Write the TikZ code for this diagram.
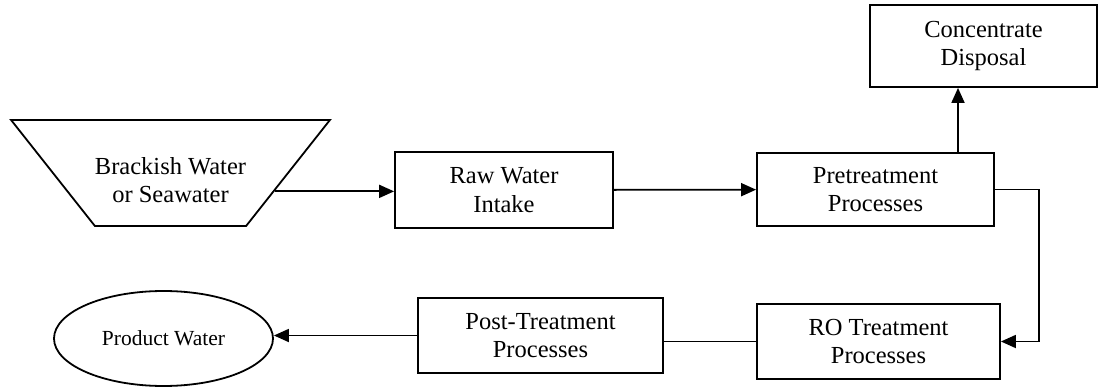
\documentclass[tikz,border=0pt]{standalone}
\usepackage{fontspec}
\setmainfont{Liberation Serif}
\usetikzlibrary{arrows.meta, shapes.geometric, positioning}

\tikzset{
  procbox/.style={draw, line width=1.8pt, rectangle, align=center, inner sep=0pt,
    font=\fontsize{24.5}{28.5}\selectfont},
  flow/.style={-{Triangle[length=15pt,width=13pt]}, line width=1.8pt},
  link/.style={line width=1.8pt},
}

\begin{document}
\begin{tikzpicture}[x=1pt, y=-1pt]
    \useasboundingbox (0,0) rectangle (1099,387);

    % source basin
    \node[trapezium, shape border rotate=180, trapezium angle=61, trapezium stretches=true,
      minimum width=319pt, minimum height=106pt, draw, line width=1.8pt] (source) at (170.5,173) {};
    \node[align=center, font=\fontsize{24.5}{28.5}\selectfont] (srclabel) at (170.5,180) {Brackish Water\\or Seawater};

    % treatment train
    \node[procbox, minimum width=218pt, minimum height=76pt] (raw) at (504,190) {Raw Water\\Intake};
    \node[procbox, minimum width=237pt, minimum height=73pt] (pre) at (875.5,189.5) {Pretreatment\\Processes};
    \node[procbox, minimum width=227pt, minimum height=82pt] (conc) at (983.5,46) {Concentrate\\Disposal};
    \node[procbox, minimum width=243pt, minimum height=75pt] (ro) at (878.5,341.5) {RO Treatment\\Processes};
    \node[procbox, minimum width=245pt, minimum height=75pt] (post) at (540.5,335.5) {Post-Treatment\\Processes};
    \node[ellipse, draw, line width=1.8pt, minimum width=219pt, minimum height=95pt, inner sep=0pt,
      font=\fontsize{21.5}{25}\selectfont] (product) at (163.5,338.5) {Product Water};

    % connectors
    \draw[flow] (source.-10) -- (source.-10 -| raw.west);
    \draw[flow] (raw) -- (pre);
    \draw[flow] ([xshift=82.5pt]pre.north) -- ([xshift=82.5pt]pre.north |- conc.south);
    \draw[flow] (pre.east) -- ++(44,0) |- (ro.east);
    \draw[link] (ro.west) -- (ro.west -| post.east);
    \draw[flow] (post.west) -- (post.west -| product.east);
\end{tikzpicture}
\end{document}
